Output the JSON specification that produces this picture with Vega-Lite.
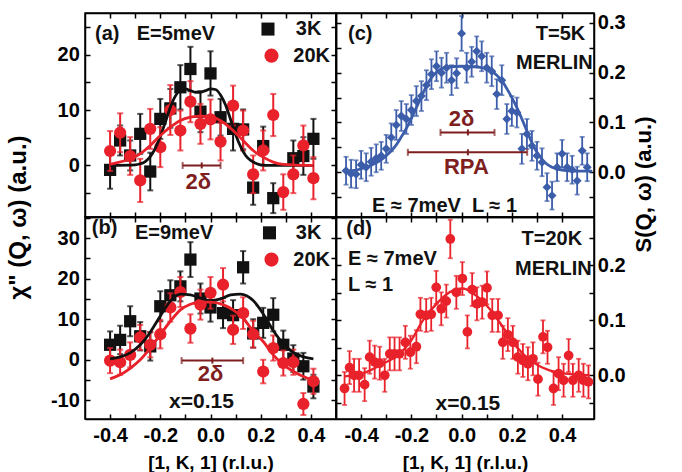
{
  "$schema": "https://vega.github.io/schema/vega-lite/v6.json",
  "background": "white",
  "padding": {"left": 5, "top": 11, "right": 5, "bottom": 5},
  "columns": 2,
  "spacing": 0,
  "bounds": "flush",
  "config": {
    "font": "Liberation Sans",
    "view": {"stroke": "#000", "strokeWidth": 1.5},
    "axis": {"grid": false, "domainColor": "#000", "domainWidth": 1.5, "tickColor": "#000", "tickWidth": 1.5, "tickSize": -5,
      "labelFont": "Liberation Sans", "labelFontWeight": "bold", "labelFontSize": 20, "labelColor": "#000",
      "labelOverlap": false, "labelFlush": false, "labelBound": false,
      "titleFont": "Liberation Sans", "titleFontWeight": "bold", "titleColor": "#000"},
    "text": {"font": "Liberation Sans", "fontWeight": "bold", "fontSize": 20, "baseline": "middle"}
  },
  "datasets": {
    "a3": [
      {"K": -0.40, "v": -0.8, "e": 3.4}, {"K": -0.36, "v": 4.5, "e": 2.7}, {"K": -0.32, "v": 1.8, "e": 2.7},
      {"K": -0.28, "v": 5.7, "e": 3.6}, {"K": -0.24, "v": -1.1, "e": 3.4}, {"K": -0.20, "v": 8.4, "e": 3.6},
      {"K": -0.16, "v": 10.3, "e": 3.5}, {"K": -0.12, "v": 14.1, "e": 4.0}, {"K": -0.08, "v": 17.4, "e": 4.0},
      {"K": -0.04, "v": 9.7, "e": 3.7}, {"K": 0.00, "v": 16.6, "e": 4.0}, {"K": 0.04, "v": 8.7, "e": 3.3},
      {"K": 0.09, "v": 6.6, "e": 3.9}, {"K": 0.13, "v": 6.5, "e": 3.6}, {"K": 0.17, "v": -4.0, "e": 3.1},
      {"K": 0.21, "v": 3.5, "e": 3.5}, {"K": 0.25, "v": -5.9, "e": 2.7}, {"K": 0.33, "v": 1.3, "e": 3.2},
      {"K": 0.37, "v": 1.7, "e": 3.4}, {"K": 0.41, "v": 4.8, "e": 3.6}
    ],
    "a20": [
      {"K": -0.40, "v": 2.6, "e": 3.6}, {"K": -0.36, "v": 5.9, "e": 3.5}, {"K": -0.32, "v": 1.7, "e": 3.4},
      {"K": -0.28, "v": -2.7, "e": 3.9}, {"K": -0.24, "v": 6.6, "e": 3.6}, {"K": -0.20, "v": 3.3, "e": 3.6},
      {"K": -0.16, "v": 10.0, "e": 4.5}, {"K": -0.12, "v": 6.3, "e": 3.6}, {"K": -0.08, "v": 11.5, "e": 3.7},
      {"K": -0.04, "v": 7.5, "e": 3.6}, {"K": 0.00, "v": 8.3, "e": 3.6}, {"K": 0.04, "v": 4.3, "e": 3.4},
      {"K": 0.09, "v": 10.8, "e": 3.6}, {"K": 0.13, "v": 6.3, "e": 3.6}, {"K": 0.17, "v": -1.6, "e": 3.4},
      {"K": 0.21, "v": 2.7, "e": 3.6}, {"K": 0.25, "v": 9.1, "e": 3.8}, {"K": 0.29, "v": -4.8, "e": 3.2},
      {"K": 0.33, "v": -1.6, "e": 3.4}, {"K": 0.37, "v": 3.6, "e": 3.6}, {"K": 0.41, "v": -2.3, "e": 3.8}
    ],
    "a3fit": [
      {"K": -0.40, "v": 0}, {"K": -0.30, "v": 0.1}, {"K": -0.28, "v": 0.3}, {"K": -0.26, "v": 0.7},
      {"K": -0.24, "v": 1.6}, {"K": -0.22, "v": 3.1}, {"K": -0.20, "v": 5.2}, {"K": -0.18, "v": 7.8},
      {"K": -0.16, "v": 10.5}, {"K": -0.14, "v": 12.5}, {"K": -0.12, "v": 13.6}, {"K": -0.10, "v": 13.8},
      {"K": -0.08, "v": 13.5}, {"K": -0.06, "v": 13.2}, {"K": -0.04, "v": 13.2}, {"K": -0.02, "v": 13.5},
      {"K": 0.00, "v": 13.8}, {"K": 0.02, "v": 13.7}, {"K": 0.04, "v": 12.7}, {"K": 0.06, "v": 10.9},
      {"K": 0.08, "v": 8.3}, {"K": 0.10, "v": 5.6}, {"K": 0.12, "v": 3.4}, {"K": 0.14, "v": 1.8},
      {"K": 0.16, "v": 0.9}, {"K": 0.18, "v": 0.4}, {"K": 0.20, "v": 0.1}, {"K": 0.24, "v": 0}, {"K": 0.41, "v": 0}
    ],
    "a20fit": [
      {"K": -0.40, "v": 0.2}, {"K": -0.32, "v": 1.2}, {"K": -0.28, "v": 2.1}, {"K": -0.24, "v": 3.6},
      {"K": -0.20, "v": 5.4}, {"K": -0.16, "v": 6.9}, {"K": -0.12, "v": 8.1}, {"K": -0.08, "v": 8.7},
      {"K": -0.04, "v": 8.9}, {"K": 0.00, "v": 8.8}, {"K": 0.05, "v": 7.8}, {"K": 0.09, "v": 6.3},
      {"K": 0.13, "v": 4.5}, {"K": 0.17, "v": 2.7}, {"K": 0.21, "v": 1.5}, {"K": 0.25, "v": 0.6},
      {"K": 0.29, "v": 0.2}, {"K": 0.41, "v": 0}
    ],
    "aText": [
      {"K": -0.46, "v": 23.7, "t": "(a)"}, {"K": -0.294, "v": 23.7, "t": "E=5meV"},
      {"K": 0.34, "v": 24.6, "t": "3K"}, {"K": 0.33, "v": 19.8, "t": "20K"}
    ],
    "aLeg3": [{"K": 0.229, "v": 24.6}],
    "aLeg20": [{"K": 0.243, "v": 19.8}],
    "aBar": [{"lo": -0.111, "hi": 0.04, "v": 0}],
    "aMid": [{"K": -0.035, "v": 0}],
    "aDelta": [{"K": -0.049, "v": -3.0, "t": "2δ"}],

    "b3": [
      {"K": -0.40, "v": 3.7, "e": 3.3}, {"K": -0.36, "v": 4.9, "e": 3.5}, {"K": -0.32, "v": 9.5, "e": 3.7},
      {"K": -0.28, "v": 5.8, "e": 3.5}, {"K": -0.24, "v": 3.3, "e": 3.5}, {"K": -0.20, "v": 13.2, "e": 3.7},
      {"K": -0.16, "v": 15.9, "e": 3.7}, {"K": -0.12, "v": 18.1, "e": 3.7}, {"K": -0.08, "v": 24.7, "e": 4.3},
      {"K": -0.04, "v": 15.1, "e": 3.7}, {"K": 0.00, "v": 12.9, "e": 3.5}, {"K": 0.05, "v": 11.5, "e": 3.7},
      {"K": 0.09, "v": 11.0, "e": 3.7}, {"K": 0.13, "v": 22.8, "e": 4.0}, {"K": 0.17, "v": 6.5, "e": 3.5},
      {"K": 0.21, "v": 9.1, "e": 3.7}, {"K": 0.25, "v": 11.1, "e": 4.1}, {"K": 0.29, "v": 3.7, "e": 3.5},
      {"K": 0.33, "v": 0.3, "e": 3.3}, {"K": 0.37, "v": -1.6, "e": 3.3}, {"K": 0.41, "v": -6.6, "e": 2.9}
    ],
    "b20": [
      {"K": -0.40, "v": -0.2, "e": 3.1}, {"K": -0.36, "v": -0.6, "e": 3.1}, {"K": -0.32, "v": 1.2, "e": 3.1},
      {"K": -0.28, "v": 5.5, "e": 3.1}, {"K": -0.24, "v": 3.7, "e": 3.1}, {"K": -0.20, "v": 6.3, "e": 3.5},
      {"K": -0.16, "v": 12.9, "e": 3.5}, {"K": -0.12, "v": 16.7, "e": 3.7}, {"K": -0.08, "v": 7.7, "e": 3.5},
      {"K": -0.04, "v": 13.6, "e": 3.7}, {"K": 0.00, "v": 16.5, "e": 3.9}, {"K": 0.05, "v": 18.5, "e": 4.1},
      {"K": 0.09, "v": 7.4, "e": 3.5}, {"K": 0.13, "v": 11.5, "e": 3.9}, {"K": 0.17, "v": 6.3, "e": 3.3},
      {"K": 0.21, "v": -2.9, "e": 2.9}, {"K": 0.25, "v": 2.9, "e": 3.1}, {"K": 0.29, "v": -0.8, "e": 3.1},
      {"K": 0.33, "v": -0.6, "e": 3.1}, {"K": 0.37, "v": -10.9, "e": 2.7}, {"K": 0.41, "v": -5.3, "e": 3.1}
    ],
    "b3fit": [
      {"K": -0.40, "v": 0.2}, {"K": -0.36, "v": 0.7}, {"K": -0.32, "v": 1.7}, {"K": -0.28, "v": 3.7},
      {"K": -0.24, "v": 6.8}, {"K": -0.20, "v": 10.8}, {"K": -0.16, "v": 14.5}, {"K": -0.12, "v": 16.2},
      {"K": -0.08, "v": 16.0}, {"K": -0.04, "v": 15.2}, {"K": 0.00, "v": 14.6}, {"K": 0.04, "v": 15.0},
      {"K": 0.08, "v": 16.0}, {"K": 0.12, "v": 16.2}, {"K": 0.17, "v": 14.6}, {"K": 0.21, "v": 11.3},
      {"K": 0.25, "v": 7.2}, {"K": 0.29, "v": 3.9}, {"K": 0.33, "v": 1.8}, {"K": 0.37, "v": 0.7}, {"K": 0.41, "v": 0.2}
    ],
    "b20fit": [
      {"K": -0.40, "v": -4.7}, {"K": -0.36, "v": -3.7}, {"K": -0.32, "v": -2.1}, {"K": -0.28, "v": 0},
      {"K": -0.24, "v": 2.9}, {"K": -0.20, "v": 6.2}, {"K": -0.16, "v": 9.5}, {"K": -0.12, "v": 12.3},
      {"K": -0.08, "v": 13.7}, {"K": -0.04, "v": 14.2}, {"K": 0.00, "v": 14.2}, {"K": 0.05, "v": 13.6},
      {"K": 0.09, "v": 12.3}, {"K": 0.13, "v": 10.3}, {"K": 0.17, "v": 7.0}, {"K": 0.21, "v": 4.5},
      {"K": 0.25, "v": 1.2}, {"K": 0.29, "v": -1.2}, {"K": 0.33, "v": -2.9}, {"K": 0.37, "v": -4.1}, {"K": 0.41, "v": -5.1}
    ],
    "bText": [
      {"K": -0.473, "v": 32.5, "t": "(b)"}, {"K": -0.301, "v": 31.3, "t": "E=9meV"},
      {"K": 0.34, "v": 31.3, "t": "3K"}, {"K": 0.33, "v": 24.7, "t": "20K"}
    ],
    "bTextC": [{"K": -0.036, "v": -10.3, "t": "x=0.15"}],
    "bLeg3": [{"K": 0.235, "v": 31.3}],
    "bLeg20": [{"K": 0.243, "v": 24.7}],
    "bBar": [{"lo": -0.115, "hi": 0.13, "v": -0.2}],
    "bMid": [{"K": 0.0075, "v": -0.2}],
    "bDelta": [{"K": 0.0, "v": -3.4, "t": "2δ"}],

    "cPts": [
      {"K": -0.46, "v": 0.003, "e": 0.028}, {"K": -0.44, "v": -0.003, "e": 0.028}, {"K": -0.42, "v": -0.004, "e": 0.028},
      {"K": -0.40, "v": 0.015, "e": 0.028}, {"K": -0.38, "v": 0.010, "e": 0.028}, {"K": -0.36, "v": 0.021, "e": 0.028},
      {"K": -0.34, "v": 0.028, "e": 0.028}, {"K": -0.32, "v": 0.033, "e": 0.028}, {"K": -0.30, "v": 0.047, "e": 0.028},
      {"K": -0.28, "v": 0.070, "e": 0.028}, {"K": -0.26, "v": 0.095, "e": 0.03}, {"K": -0.24, "v": 0.113, "e": 0.03},
      {"K": -0.22, "v": 0.107, "e": 0.03}, {"K": -0.20, "v": 0.125, "e": 0.03}, {"K": -0.18, "v": 0.143, "e": 0.03},
      {"K": -0.16, "v": 0.153, "e": 0.03}, {"K": -0.14, "v": 0.175, "e": 0.03}, {"K": -0.12, "v": 0.197, "e": 0.03},
      {"K": -0.10, "v": 0.213, "e": 0.03}, {"K": -0.08, "v": 0.200, "e": 0.03}, {"K": -0.06, "v": 0.210, "e": 0.03},
      {"K": -0.04, "v": 0.185, "e": 0.03}, {"K": -0.02, "v": 0.199, "e": 0.03}, {"K": 0.00, "v": 0.279, "e": 0.035},
      {"K": 0.02, "v": 0.210, "e": 0.03}, {"K": 0.04, "v": 0.222, "e": 0.03}, {"K": 0.06, "v": 0.243, "e": 0.03},
      {"K": 0.08, "v": 0.233, "e": 0.03}, {"K": 0.10, "v": 0.210, "e": 0.03}, {"K": 0.12, "v": 0.203, "e": 0.03},
      {"K": 0.14, "v": 0.157, "e": 0.03}, {"K": 0.16, "v": 0.185, "e": 0.03}, {"K": 0.18, "v": 0.107, "e": 0.03},
      {"K": 0.20, "v": 0.123, "e": 0.03}, {"K": 0.22, "v": 0.120, "e": 0.03}, {"K": 0.24, "v": 0.047, "e": 0.03},
      {"K": 0.26, "v": 0.077, "e": 0.03}, {"K": 0.28, "v": 0.053, "e": 0.03}, {"K": 0.30, "v": 0.033, "e": 0.028},
      {"K": 0.32, "v": 0.020, "e": 0.028}, {"K": 0.34, "v": -0.030, "e": 0.028}, {"K": 0.36, "v": -0.047, "e": 0.028},
      {"K": 0.38, "v": 0.010, "e": 0.028}, {"K": 0.40, "v": 0.037, "e": 0.028}, {"K": 0.42, "v": 0.010, "e": 0.028},
      {"K": 0.44, "v": 0.005, "e": 0.028}, {"K": 0.46, "v": -0.017, "e": 0.028}, {"K": 0.48, "v": 0.043, "e": 0.028},
      {"K": 0.50, "v": 0.010, "e": 0.028}
    ],
    "cFit": [
      {"K": -0.46, "v": 0.002}, {"K": -0.42, "v": 0.004}, {"K": -0.38, "v": 0.010}, {"K": -0.34, "v": 0.019},
      {"K": -0.31, "v": 0.029}, {"K": -0.28, "v": 0.043}, {"K": -0.26, "v": 0.055}, {"K": -0.24, "v": 0.071},
      {"K": -0.22, "v": 0.088}, {"K": -0.20, "v": 0.108}, {"K": -0.18, "v": 0.130}, {"K": -0.16, "v": 0.152},
      {"K": -0.14, "v": 0.173}, {"K": -0.12, "v": 0.190}, {"K": -0.10, "v": 0.201}, {"K": -0.08, "v": 0.208},
      {"K": -0.05, "v": 0.212}, {"K": 0.00, "v": 0.213}, {"K": 0.05, "v": 0.212}, {"K": 0.09, "v": 0.209},
      {"K": 0.12, "v": 0.203}, {"K": 0.14, "v": 0.195}, {"K": 0.16, "v": 0.184}, {"K": 0.18, "v": 0.168},
      {"K": 0.20, "v": 0.150}, {"K": 0.22, "v": 0.130}, {"K": 0.24, "v": 0.107}, {"K": 0.26, "v": 0.083},
      {"K": 0.28, "v": 0.059}, {"K": 0.30, "v": 0.040}, {"K": 0.32, "v": 0.026}, {"K": 0.34, "v": 0.016},
      {"K": 0.36, "v": 0.010}, {"K": 0.40, "v": 0.004}, {"K": 0.45, "v": 0.002}, {"K": 0.52, "v": 0.002}
    ],
    "cTextL": [{"K": -0.452, "v": 0.277, "t": "(c)"}],
    "cTextR": [{"K": 0.492, "v": 0.277, "t": "T=5K"}, {"K": 0.522, "v": 0.22, "t": "MERLIN"}],
    "cTextC": [{"K": -0.068, "v": -0.067, "t": "E ≈ 7meV\u00a0\u00a0L ≈ 1"}],
    "cRed": [{"K": 0.0, "v": 0.107, "t": "2δ"}, {"K": 0.019, "v": 0.01, "t": "RPA"}],
    "cBar": [{"lo": -0.084, "hi": 0.131, "v": 0.08}, {"lo": -0.214, "hi": 0.261, "v": 0.04}],
    "cMid": [{"K": 0.025, "v": 0.08}, {"K": 0.025, "v": 0.04}],

    "dPts": [
      {"K": -0.466, "v": -0.024, "e": 0.03}, {"K": -0.446, "v": 0.014, "e": 0.03}, {"K": -0.428, "v": 0.0, "e": 0.03},
      {"K": -0.408, "v": 0.0, "e": 0.03}, {"K": -0.386, "v": -0.017, "e": 0.03}, {"K": -0.366, "v": 0.033, "e": 0.03},
      {"K": -0.346, "v": 0.024, "e": 0.03}, {"K": -0.326, "v": 0.022, "e": 0.03}, {"K": -0.306, "v": 0.0, "e": 0.03},
      {"K": -0.286, "v": 0.039, "e": 0.03}, {"K": -0.267, "v": 0.039, "e": 0.03}, {"K": -0.247, "v": 0.039, "e": 0.03},
      {"K": -0.224, "v": 0.060, "e": 0.03}, {"K": -0.204, "v": 0.042, "e": 0.03}, {"K": -0.180, "v": 0.052, "e": 0.03},
      {"K": -0.164, "v": 0.111, "e": 0.03}, {"K": -0.141, "v": 0.109, "e": 0.03}, {"K": -0.121, "v": 0.111, "e": 0.03},
      {"K": -0.101, "v": 0.160, "e": 0.03}, {"K": -0.081, "v": 0.121, "e": 0.03}, {"K": -0.061, "v": 0.135, "e": 0.03},
      {"K": -0.045, "v": 0.248, "e": 0.035}, {"K": -0.021, "v": 0.151, "e": 0.03}, {"K": 0.003, "v": 0.176, "e": 0.03},
      {"K": 0.023, "v": 0.079, "e": 0.03}, {"K": 0.042, "v": 0.156, "e": 0.03}, {"K": 0.061, "v": 0.130, "e": 0.03},
      {"K": 0.082, "v": 0.133, "e": 0.03}, {"K": 0.101, "v": 0.159, "e": 0.03}, {"K": 0.122, "v": 0.109, "e": 0.03},
      {"K": 0.145, "v": 0.109, "e": 0.03}, {"K": 0.164, "v": 0.060, "e": 0.03}, {"K": 0.184, "v": 0.074, "e": 0.03},
      {"K": 0.204, "v": 0.060, "e": 0.03}, {"K": 0.224, "v": 0.033, "e": 0.03}, {"K": 0.244, "v": 0.027, "e": 0.03},
      {"K": 0.264, "v": 0.021, "e": 0.03}, {"K": 0.284, "v": 0.030, "e": 0.03}, {"K": 0.304, "v": -0.007, "e": 0.03},
      {"K": 0.324, "v": 0.070, "e": 0.03}, {"K": 0.342, "v": 0.051, "e": 0.03}, {"K": 0.366, "v": -0.024, "e": 0.03},
      {"K": 0.386, "v": 0.003, "e": 0.03}, {"K": 0.406, "v": -0.009, "e": 0.03}, {"K": 0.426, "v": 0.036, "e": 0.03},
      {"K": 0.443, "v": -0.009, "e": 0.03}, {"K": 0.466, "v": 0.0, "e": 0.03}, {"K": 0.485, "v": -0.009, "e": 0.03},
      {"K": 0.505, "v": -0.012, "e": 0.03}
    ],
    "dFit": [
      {"K": -0.466, "v": -0.002}, {"K": -0.38, "v": 0.006}, {"K": -0.313, "v": 0.021}, {"K": -0.247, "v": 0.039},
      {"K": -0.20, "v": 0.064}, {"K": -0.154, "v": 0.100}, {"K": -0.10, "v": 0.130}, {"K": -0.048, "v": 0.151},
      {"K": 0.005, "v": 0.158}, {"K": 0.058, "v": 0.145}, {"K": 0.111, "v": 0.121}, {"K": 0.164, "v": 0.088},
      {"K": 0.218, "v": 0.052}, {"K": 0.284, "v": 0.024}, {"K": 0.35, "v": 0.009}, {"K": 0.416, "v": 0.003},
      {"K": 0.51, "v": 0.0}
    ],
    "dTextL": [
      {"K": -0.459, "v": 0.267, "t": "(d)"}, {"K": -0.452, "v": 0.212, "t": "E ≈ 7meV"}, {"K": -0.452, "v": 0.164, "t": "L ≈ 1"}
    ],
    "dTextR": [{"K": 0.48, "v": 0.248, "t": "T=20K"}, {"K": 0.518, "v": 0.194, "t": "MERLIN"}],
    "dTextC": [{"K": 0.025, "v": -0.052, "t": "x=0.15"}]
  },
  "concat": [
    {
      "width": 251, "height": 204,
      "resolve": {"axis": {"x": "independent", "y": "independent"}},
      "layer": [
        {"data": {"name": "a3"}, "mark": {"type": "point", "opacity": 0},
         "encoding": {
           "x": {"field": "K", "type": "quantitative", "scale": {"domain": [-0.5, 0.5], "nice": false, "zero": false},
                 "axis": {"orient": "bottom", "values": [-0.4, -0.3, -0.2, -0.1, 0, 0.1, 0.2, 0.3, 0.4], "labels": false, "title": null}},
           "y": {"field": "v", "type": "quantitative", "scale": {"domain": [-9.3, 27.5], "nice": false, "zero": false},
                 "axis": {"orient": "left", "values": [-5, 0, 5, 10, 15, 20, 25],
                          "labelExpr": "datum.value % 10 === 0 ? (datum.value < 0 ? '-' : '') + abs(datum.value) : ''",
                          "labelPadding": 10.7, "title": "χ\" (Q, ω) (a.u.)", "titleFontSize": 24, "titleAngle": -90,
                          "titleX": -67, "titleY": 204, "titleBaseline": "middle", "titleAlign": "center"}}}},
        {"data": {"name": "a3"}, "mark": {"type": "point", "opacity": 0},
         "encoding": {
           "x": {"field": "K", "type": "quantitative", "scale": {"domain": [-0.5, 0.5], "nice": false, "zero": false},
                 "axis": {"orient": "top", "values": [-0.4, -0.3, -0.2, -0.1, 0, 0.1, 0.2, 0.3, 0.4], "labels": false, "title": null}},
           "y": {"field": "v", "type": "quantitative", "scale": {"domain": [-9.3, 27.5], "nice": false, "zero": false},
                 "axis": {"orient": "right", "values": [-5, 0, 5, 10, 15, 20, 25], "labels": false, "title": null}}}},
        {"data": {"name": "a3"}, "mark": {"type": "errorbar", "ticks": {"size": 6}, "thickness": 2, "color": "#111111"},
         "encoding": {
           "x": {"field": "K", "type": "quantitative", "scale": {"domain": [-0.5, 0.5], "nice": false, "zero": false}, "axis": null},
           "y": {"field": "v", "type": "quantitative", "scale": {"domain": [-9.3, 27.5], "nice": false, "zero": false}, "axis": null},
           "yError": {"field": "e"}}},
        {"data": {"name": "a3"}, "mark": {"type": "point", "shape": "square", "filled": true, "size": 150, "opacity": 1, "color": "#111111"},
         "encoding": {
           "x": {"field": "K", "type": "quantitative", "scale": {"domain": [-0.5, 0.5], "nice": false, "zero": false}, "axis": null},
           "y": {"field": "v", "type": "quantitative", "scale": {"domain": [-9.3, 27.5], "nice": false, "zero": false}, "axis": null}}},
        {"data": {"name": "a20"}, "mark": {"type": "errorbar", "ticks": {"size": 6}, "thickness": 2, "color": "#E8212A"},
         "encoding": {
           "x": {"field": "K", "type": "quantitative", "scale": {"domain": [-0.5, 0.5], "nice": false, "zero": false}, "axis": null},
           "y": {"field": "v", "type": "quantitative", "scale": {"domain": [-9.3, 27.5], "nice": false, "zero": false}, "axis": null},
           "yError": {"field": "e"}}},
        {"data": {"name": "a20"}, "mark": {"type": "point", "shape": "circle", "filled": true, "size": 150, "opacity": 1, "color": "#E8212A"},
         "encoding": {
           "x": {"field": "K", "type": "quantitative", "scale": {"domain": [-0.5, 0.5], "nice": false, "zero": false}, "axis": null},
           "y": {"field": "v", "type": "quantitative", "scale": {"domain": [-9.3, 27.5], "nice": false, "zero": false}, "axis": null}}},
        {"data": {"name": "a3fit"}, "mark": {"type": "line", "interpolate": "monotone", "strokeWidth": 2.8, "color": "#111111"},
         "encoding": {
           "x": {"field": "K", "type": "quantitative", "scale": {"domain": [-0.5, 0.5], "nice": false, "zero": false}, "axis": null},
           "y": {"field": "v", "type": "quantitative", "scale": {"domain": [-9.3, 27.5], "nice": false, "zero": false}, "axis": null}}},
        {"data": {"name": "a20fit"}, "mark": {"type": "line", "interpolate": "monotone", "strokeWidth": 2.8, "color": "#E8212A"},
         "encoding": {
           "x": {"field": "K", "type": "quantitative", "scale": {"domain": [-0.5, 0.5], "nice": false, "zero": false}, "axis": null},
           "y": {"field": "v", "type": "quantitative", "scale": {"domain": [-9.3, 27.5], "nice": false, "zero": false}, "axis": null}}},
        {"data": {"name": "aBar"}, "mark": {"type": "errorbar", "ticks": {"size": 7}, "thickness": 2, "color": "#7E1E1E"},
         "encoding": {
           "x": {"field": "lo", "type": "quantitative", "scale": {"domain": [-0.5, 0.5], "nice": false, "zero": false}, "axis": null},
           "x2": {"field": "hi"},
           "y": {"field": "v", "type": "quantitative", "scale": {"domain": [-9.3, 27.5], "nice": false, "zero": false}, "axis": null}}},
        {"data": {"name": "aMid"}, "mark": {"type": "point", "shape": "M0,-1L0,1", "size": 36, "filled": false, "strokeWidth": 2, "opacity": 1, "color": "#7E1E1E"},
         "encoding": {
           "x": {"field": "K", "type": "quantitative", "scale": {"domain": [-0.5, 0.5], "nice": false, "zero": false}, "axis": null},
           "y": {"field": "v", "type": "quantitative", "scale": {"domain": [-9.3, 27.5], "nice": false, "zero": false}, "axis": null}}},
        {"data": {"name": "aDelta"}, "mark": {"type": "text", "fontSize": 22, "color": "#7E1E1E"},
         "encoding": {
           "x": {"field": "K", "type": "quantitative", "scale": {"domain": [-0.5, 0.5], "nice": false, "zero": false}, "axis": null},
           "y": {"field": "v", "type": "quantitative", "scale": {"domain": [-9.3, 27.5], "nice": false, "zero": false}, "axis": null},
           "text": {"field": "t"}}},
        {"data": {"name": "aText"}, "mark": {"type": "text", "align": "left", "color": "#111111"},
         "encoding": {
           "x": {"field": "K", "type": "quantitative", "scale": {"domain": [-0.5, 0.5], "nice": false, "zero": false}, "axis": null},
           "y": {"field": "v", "type": "quantitative", "scale": {"domain": [-9.3, 27.5], "nice": false, "zero": false}, "axis": null},
           "text": {"field": "t"}}},
        {"data": {"name": "aLeg3"}, "mark": {"type": "point", "shape": "square", "filled": true, "size": 170, "opacity": 1, "color": "#111111"},
         "encoding": {
           "x": {"field": "K", "type": "quantitative", "scale": {"domain": [-0.5, 0.5], "nice": false, "zero": false}, "axis": null},
           "y": {"field": "v", "type": "quantitative", "scale": {"domain": [-9.3, 27.5], "nice": false, "zero": false}, "axis": null}}},
        {"data": {"name": "aLeg20"}, "mark": {"type": "point", "shape": "circle", "filled": true, "size": 200, "opacity": 1, "color": "#E8212A"},
         "encoding": {
           "x": {"field": "K", "type": "quantitative", "scale": {"domain": [-0.5, 0.5], "nice": false, "zero": false}, "axis": null},
           "y": {"field": "v", "type": "quantitative", "scale": {"domain": [-9.3, 27.5], "nice": false, "zero": false}, "axis": null}}}
      ]
    },
    {
      "width": 258, "height": 204,
      "resolve": {"axis": {"x": "independent", "y": "independent"}},
      "layer": [
        {"data": {"name": "cPts"}, "mark": {"type": "point", "opacity": 0},
         "encoding": {
           "x": {"field": "K", "type": "quantitative", "scale": {"domain": [-0.5, 0.527], "nice": false, "zero": false},
                 "axis": {"orient": "bottom", "values": [-0.4, -0.3, -0.2, -0.1, 0, 0.1, 0.2, 0.3, 0.4], "labels": false, "title": null}},
           "y": {"field": "v", "type": "quantitative", "scale": {"domain": [-0.09, 0.32], "nice": false, "zero": false},
                 "axis": {"orient": "right", "values": [-0.05, 0, 0.05, 0.1, 0.15, 0.2, 0.25, 0.3],
                          "labelExpr": "abs(round(datum.value * 100)) % 10 === 0 ? format(datum.value, '.1f') : ''",
                          "labelPadding": 8.3, "title": "S(Q, ω) (a.u.)", "titleFontSize": 22, "titleAngle": -90,
                          "titleX": 49, "titleY": 171, "titleBaseline": "middle", "titleAlign": "center"}}}},
        {"data": {"name": "cPts"}, "mark": {"type": "point", "opacity": 0},
         "encoding": {
           "x": {"field": "K", "type": "quantitative", "scale": {"domain": [-0.5, 0.527], "nice": false, "zero": false},
                 "axis": {"orient": "top", "values": [-0.4, -0.3, -0.2, -0.1, 0, 0.1, 0.2, 0.3, 0.4], "labels": false, "title": null}},
           "y": {"field": "v", "type": "quantitative", "scale": {"domain": [-0.09, 0.32], "nice": false, "zero": false},
                 "axis": {"orient": "left", "values": [-0.05, 0, 0.05, 0.1, 0.15, 0.2, 0.25, 0.3], "labels": false, "title": null}}}},
        {"data": {"name": "cFit"}, "mark": {"type": "line", "interpolate": "monotone", "strokeWidth": 2.8, "color": "#3C5DAA"},
         "encoding": {
           "x": {"field": "K", "type": "quantitative", "scale": {"domain": [-0.5, 0.527], "nice": false, "zero": false}, "axis": null},
           "y": {"field": "v", "type": "quantitative", "scale": {"domain": [-0.09, 0.32], "nice": false, "zero": false}, "axis": null}}},
        {"data": {"name": "cPts"}, "mark": {"type": "errorbar", "ticks": {"size": 5}, "thickness": 1.8, "color": "#3C5DAA"},
         "encoding": {
           "x": {"field": "K", "type": "quantitative", "scale": {"domain": [-0.5, 0.527], "nice": false, "zero": false}, "axis": null},
           "y": {"field": "v", "type": "quantitative", "scale": {"domain": [-0.09, 0.32], "nice": false, "zero": false}, "axis": null},
           "yError": {"field": "e"}}},
        {"data": {"name": "cPts"}, "mark": {"type": "point", "shape": "diamond", "filled": true, "size": 80, "opacity": 1, "color": "#3C5DAA"},
         "encoding": {
           "x": {"field": "K", "type": "quantitative", "scale": {"domain": [-0.5, 0.527], "nice": false, "zero": false}, "axis": null},
           "y": {"field": "v", "type": "quantitative", "scale": {"domain": [-0.09, 0.32], "nice": false, "zero": false}, "axis": null}}},
        {"data": {"name": "cBar"}, "mark": {"type": "errorbar", "ticks": {"size": 7}, "thickness": 2, "color": "#7E1E1E"},
         "encoding": {
           "x": {"field": "lo", "type": "quantitative", "scale": {"domain": [-0.5, 0.527], "nice": false, "zero": false}, "axis": null},
           "x2": {"field": "hi"},
           "y": {"field": "v", "type": "quantitative", "scale": {"domain": [-0.09, 0.32], "nice": false, "zero": false}, "axis": null}}},
        {"data": {"name": "cMid"}, "mark": {"type": "point", "shape": "M0,-1L0,1", "size": 36, "filled": false, "strokeWidth": 2, "opacity": 1, "color": "#7E1E1E"},
         "encoding": {
           "x": {"field": "K", "type": "quantitative", "scale": {"domain": [-0.5, 0.527], "nice": false, "zero": false}, "axis": null},
           "y": {"field": "v", "type": "quantitative", "scale": {"domain": [-0.09, 0.32], "nice": false, "zero": false}, "axis": null}}},
        {"data": {"name": "cRed"}, "mark": {"type": "text", "fontSize": 22, "color": "#7E1E1E"},
         "encoding": {
           "x": {"field": "K", "type": "quantitative", "scale": {"domain": [-0.5, 0.527], "nice": false, "zero": false}, "axis": null},
           "y": {"field": "v", "type": "quantitative", "scale": {"domain": [-0.09, 0.32], "nice": false, "zero": false}, "axis": null},
           "text": {"field": "t"}}},
        {"data": {"name": "cTextL"}, "mark": {"type": "text", "align": "left", "color": "#111111"},
         "encoding": {
           "x": {"field": "K", "type": "quantitative", "scale": {"domain": [-0.5, 0.527], "nice": false, "zero": false}, "axis": null},
           "y": {"field": "v", "type": "quantitative", "scale": {"domain": [-0.09, 0.32], "nice": false, "zero": false}, "axis": null},
           "text": {"field": "t"}}},
        {"data": {"name": "cTextR"}, "mark": {"type": "text", "align": "right", "color": "#111111"},
         "encoding": {
           "x": {"field": "K", "type": "quantitative", "scale": {"domain": [-0.5, 0.527], "nice": false, "zero": false}, "axis": null},
           "y": {"field": "v", "type": "quantitative", "scale": {"domain": [-0.09, 0.32], "nice": false, "zero": false}, "axis": null},
           "text": {"field": "t"}}},
        {"data": {"name": "cTextC"}, "mark": {"type": "text", "align": "center", "color": "#111111"},
         "encoding": {
           "x": {"field": "K", "type": "quantitative", "scale": {"domain": [-0.5, 0.527], "nice": false, "zero": false}, "axis": null},
           "y": {"field": "v", "type": "quantitative", "scale": {"domain": [-0.09, 0.32], "nice": false, "zero": false}, "axis": null},
           "text": {"field": "t"}}}
      ]
    },
    {
      "width": 251, "height": 202,
      "resolve": {"axis": {"x": "independent", "y": "independent"}},
      "layer": [
        {"data": {"name": "b3"}, "mark": {"type": "point", "opacity": 0},
         "encoding": {
           "x": {"field": "K", "type": "quantitative", "scale": {"domain": [-0.5, 0.5], "nice": false, "zero": false},
                 "axis": {"orient": "bottom", "values": [-0.4, -0.3, -0.2, -0.1, 0, 0.1, 0.2, 0.3, 0.4],
                          "labelExpr": "abs(round(datum.value * 10)) % 2 === 0 ? (datum.value < -0.001 ? '-' : '') + format(abs(datum.value), '.1f') : ''",
                          "labelPadding": 11, "title": "[1, K, 1] (r.l.u.)", "titleFontSize": 19, "titlePadding": 8}},
           "y": {"field": "v", "type": "quantitative", "scale": {"domain": [-14.6, 35.2], "nice": false, "zero": false},
                 "axis": {"orient": "left", "values": [-10, -5, 0, 5, 10, 15, 20, 25, 30, 35],
                          "labelExpr": "datum.value % 10 === 0 ? (datum.value < 0 ? '-' : '') + abs(datum.value) : ''",
                          "labelPadding": 10.7, "title": null}}}},
        {"data": {"name": "b3"}, "mark": {"type": "point", "opacity": 0},
         "encoding": {
           "x": {"field": "K", "type": "quantitative", "scale": {"domain": [-0.5, 0.5], "nice": false, "zero": false},
                 "axis": {"orient": "top", "values": [-0.4, -0.3, -0.2, -0.1, 0, 0.1, 0.2, 0.3, 0.4], "labels": false, "title": null}},
           "y": {"field": "v", "type": "quantitative", "scale": {"domain": [-14.6, 35.2], "nice": false, "zero": false},
                 "axis": {"orient": "right", "values": [-10, -5, 0, 5, 10, 15, 20, 25, 30, 35], "labels": false, "title": null}}}},
        {"data": {"name": "b3"}, "mark": {"type": "errorbar", "ticks": {"size": 6}, "thickness": 2, "color": "#111111"},
         "encoding": {
           "x": {"field": "K", "type": "quantitative", "scale": {"domain": [-0.5, 0.5], "nice": false, "zero": false}, "axis": null},
           "y": {"field": "v", "type": "quantitative", "scale": {"domain": [-14.6, 35.2], "nice": false, "zero": false}, "axis": null},
           "yError": {"field": "e"}}},
        {"data": {"name": "b3"}, "mark": {"type": "point", "shape": "square", "filled": true, "size": 150, "opacity": 1, "color": "#111111"},
         "encoding": {
           "x": {"field": "K", "type": "quantitative", "scale": {"domain": [-0.5, 0.5], "nice": false, "zero": false}, "axis": null},
           "y": {"field": "v", "type": "quantitative", "scale": {"domain": [-14.6, 35.2], "nice": false, "zero": false}, "axis": null}}},
        {"data": {"name": "b20"}, "mark": {"type": "errorbar", "ticks": {"size": 6}, "thickness": 2, "color": "#E8212A"},
         "encoding": {
           "x": {"field": "K", "type": "quantitative", "scale": {"domain": [-0.5, 0.5], "nice": false, "zero": false}, "axis": null},
           "y": {"field": "v", "type": "quantitative", "scale": {"domain": [-14.6, 35.2], "nice": false, "zero": false}, "axis": null},
           "yError": {"field": "e"}}},
        {"data": {"name": "b20"}, "mark": {"type": "point", "shape": "circle", "filled": true, "size": 150, "opacity": 1, "color": "#E8212A"},
         "encoding": {
           "x": {"field": "K", "type": "quantitative", "scale": {"domain": [-0.5, 0.5], "nice": false, "zero": false}, "axis": null},
           "y": {"field": "v", "type": "quantitative", "scale": {"domain": [-14.6, 35.2], "nice": false, "zero": false}, "axis": null}}},
        {"data": {"name": "b3fit"}, "mark": {"type": "line", "interpolate": "monotone", "strokeWidth": 2.8, "color": "#111111"},
         "encoding": {
           "x": {"field": "K", "type": "quantitative", "scale": {"domain": [-0.5, 0.5], "nice": false, "zero": false}, "axis": null},
           "y": {"field": "v", "type": "quantitative", "scale": {"domain": [-14.6, 35.2], "nice": false, "zero": false}, "axis": null}}},
        {"data": {"name": "b20fit"}, "mark": {"type": "line", "interpolate": "monotone", "strokeWidth": 2.8, "color": "#E8212A"},
         "encoding": {
           "x": {"field": "K", "type": "quantitative", "scale": {"domain": [-0.5, 0.5], "nice": false, "zero": false}, "axis": null},
           "y": {"field": "v", "type": "quantitative", "scale": {"domain": [-14.6, 35.2], "nice": false, "zero": false}, "axis": null}}},
        {"data": {"name": "bBar"}, "mark": {"type": "errorbar", "ticks": {"size": 7}, "thickness": 2, "color": "#7E1E1E"},
         "encoding": {
           "x": {"field": "lo", "type": "quantitative", "scale": {"domain": [-0.5, 0.5], "nice": false, "zero": false}, "axis": null},
           "x2": {"field": "hi"},
           "y": {"field": "v", "type": "quantitative", "scale": {"domain": [-14.6, 35.2], "nice": false, "zero": false}, "axis": null}}},
        {"data": {"name": "bMid"}, "mark": {"type": "point", "shape": "M0,-1L0,1", "size": 36, "filled": false, "strokeWidth": 2, "opacity": 1, "color": "#7E1E1E"},
         "encoding": {
           "x": {"field": "K", "type": "quantitative", "scale": {"domain": [-0.5, 0.5], "nice": false, "zero": false}, "axis": null},
           "y": {"field": "v", "type": "quantitative", "scale": {"domain": [-14.6, 35.2], "nice": false, "zero": false}, "axis": null}}},
        {"data": {"name": "bDelta"}, "mark": {"type": "text", "fontSize": 22, "color": "#7E1E1E"},
         "encoding": {
           "x": {"field": "K", "type": "quantitative", "scale": {"domain": [-0.5, 0.5], "nice": false, "zero": false}, "axis": null},
           "y": {"field": "v", "type": "quantitative", "scale": {"domain": [-14.6, 35.2], "nice": false, "zero": false}, "axis": null},
           "text": {"field": "t"}}},
        {"data": {"name": "bText"}, "mark": {"type": "text", "align": "left", "color": "#111111"},
         "encoding": {
           "x": {"field": "K", "type": "quantitative", "scale": {"domain": [-0.5, 0.5], "nice": false, "zero": false}, "axis": null},
           "y": {"field": "v", "type": "quantitative", "scale": {"domain": [-14.6, 35.2], "nice": false, "zero": false}, "axis": null},
           "text": {"field": "t"}}},
        {"data": {"name": "bTextC"}, "mark": {"type": "text", "align": "center", "fontSize": 21, "color": "#111111"},
         "encoding": {
           "x": {"field": "K", "type": "quantitative", "scale": {"domain": [-0.5, 0.5], "nice": false, "zero": false}, "axis": null},
           "y": {"field": "v", "type": "quantitative", "scale": {"domain": [-14.6, 35.2], "nice": false, "zero": false}, "axis": null},
           "text": {"field": "t"}}},
        {"data": {"name": "bLeg3"}, "mark": {"type": "point", "shape": "square", "filled": true, "size": 170, "opacity": 1, "color": "#111111"},
         "encoding": {
           "x": {"field": "K", "type": "quantitative", "scale": {"domain": [-0.5, 0.5], "nice": false, "zero": false}, "axis": null},
           "y": {"field": "v", "type": "quantitative", "scale": {"domain": [-14.6, 35.2], "nice": false, "zero": false}, "axis": null}}},
        {"data": {"name": "bLeg20"}, "mark": {"type": "point", "shape": "circle", "filled": true, "size": 200, "opacity": 1, "color": "#E8212A"},
         "encoding": {
           "x": {"field": "K", "type": "quantitative", "scale": {"domain": [-0.5, 0.5], "nice": false, "zero": false}, "axis": null},
           "y": {"field": "v", "type": "quantitative", "scale": {"domain": [-14.6, 35.2], "nice": false, "zero": false}, "axis": null}}}
      ]
    },
    {
      "width": 258, "height": 202,
      "resolve": {"axis": {"x": "independent", "y": "independent"}},
      "layer": [
        {"data": {"name": "dPts"}, "mark": {"type": "point", "opacity": 0},
         "encoding": {
           "x": {"field": "K", "type": "quantitative", "scale": {"domain": [-0.5, 0.527], "nice": false, "zero": false},
                 "axis": {"orient": "bottom", "values": [-0.4, -0.3, -0.2, -0.1, 0, 0.1, 0.2, 0.3, 0.4],
                          "labelExpr": "abs(round(datum.value * 10)) % 2 === 0 ? (datum.value < -0.001 ? '-' : '') + format(abs(datum.value), '.1f') : ''",
                          "labelPadding": 11, "title": "[1, K, 1] (r.l.u.)", "titleFontSize": 19, "titlePadding": 8}},
           "y": {"field": "v", "type": "quantitative", "scale": {"domain": [-0.0795, 0.288], "nice": false, "zero": false},
                 "axis": {"orient": "right", "values": [-0.05, 0, 0.05, 0.1, 0.15, 0.2, 0.25],
                          "labelExpr": "abs(round(datum.value * 100)) % 10 === 0 ? format(datum.value, '.1f') : ''",
                          "labelPadding": 8.3, "title": null}}}},
        {"data": {"name": "dPts"}, "mark": {"type": "point", "opacity": 0},
         "encoding": {
           "x": {"field": "K", "type": "quantitative", "scale": {"domain": [-0.5, 0.527], "nice": false, "zero": false},
                 "axis": {"orient": "top", "values": [-0.4, -0.3, -0.2, -0.1, 0, 0.1, 0.2, 0.3, 0.4], "labels": false, "title": null}},
           "y": {"field": "v", "type": "quantitative", "scale": {"domain": [-0.0795, 0.288], "nice": false, "zero": false},
                 "axis": {"orient": "left", "values": [-0.05, 0, 0.05, 0.1, 0.15, 0.2, 0.25], "labels": false, "title": null}}}},
        {"data": {"name": "dFit"}, "mark": {"type": "line", "interpolate": "monotone", "strokeWidth": 2.4, "color": "#E8212A"},
         "encoding": {
           "x": {"field": "K", "type": "quantitative", "scale": {"domain": [-0.5, 0.527], "nice": false, "zero": false}, "axis": null},
           "y": {"field": "v", "type": "quantitative", "scale": {"domain": [-0.0795, 0.288], "nice": false, "zero": false}, "axis": null}}},
        {"data": {"name": "dPts"}, "mark": {"type": "errorbar", "ticks": {"size": 5}, "thickness": 1.8, "color": "#E8212A"},
         "encoding": {
           "x": {"field": "K", "type": "quantitative", "scale": {"domain": [-0.5, 0.527], "nice": false, "zero": false}, "axis": null},
           "y": {"field": "v", "type": "quantitative", "scale": {"domain": [-0.0795, 0.288], "nice": false, "zero": false}, "axis": null},
           "yError": {"field": "e"}}},
        {"data": {"name": "dPts"}, "mark": {"type": "point", "shape": "circle", "filled": true, "size": 95, "opacity": 1, "color": "#E8212A"},
         "encoding": {
           "x": {"field": "K", "type": "quantitative", "scale": {"domain": [-0.5, 0.527], "nice": false, "zero": false}, "axis": null},
           "y": {"field": "v", "type": "quantitative", "scale": {"domain": [-0.0795, 0.288], "nice": false, "zero": false}, "axis": null}}},
        {"data": {"name": "dTextL"}, "mark": {"type": "text", "align": "left", "color": "#111111"},
         "encoding": {
           "x": {"field": "K", "type": "quantitative", "scale": {"domain": [-0.5, 0.527], "nice": false, "zero": false}, "axis": null},
           "y": {"field": "v", "type": "quantitative", "scale": {"domain": [-0.0795, 0.288], "nice": false, "zero": false}, "axis": null},
           "text": {"field": "t"}}},
        {"data": {"name": "dTextR"}, "mark": {"type": "text", "align": "right", "color": "#111111"},
         "encoding": {
           "x": {"field": "K", "type": "quantitative", "scale": {"domain": [-0.5, 0.527], "nice": false, "zero": false}, "axis": null},
           "y": {"field": "v", "type": "quantitative", "scale": {"domain": [-0.0795, 0.288], "nice": false, "zero": false}, "axis": null},
           "text": {"field": "t"}}},
        {"data": {"name": "dTextC"}, "mark": {"type": "text", "align": "center", "fontSize": 21, "color": "#111111"},
         "encoding": {
           "x": {"field": "K", "type": "quantitative", "scale": {"domain": [-0.5, 0.527], "nice": false, "zero": false}, "axis": null},
           "y": {"field": "v", "type": "quantitative", "scale": {"domain": [-0.0795, 0.288], "nice": false, "zero": false}, "axis": null},
           "text": {"field": "t"}}}
      ]
    }
  ]
}
